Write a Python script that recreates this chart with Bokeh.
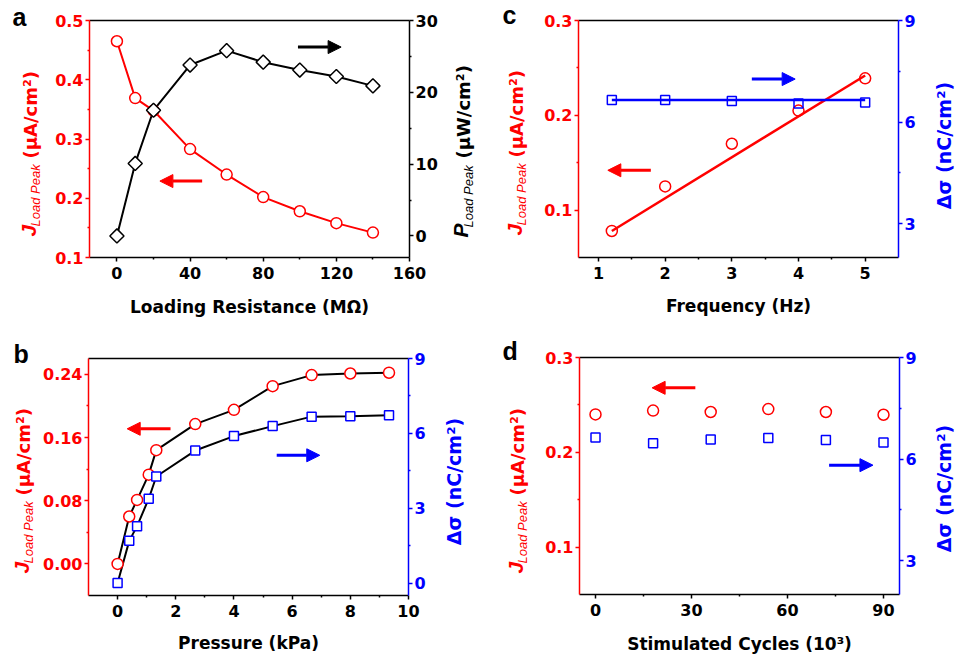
import math
from bokeh.plotting import figure
from bokeh.models import (Range1d, LinearAxis, FixedTicker, NumeralTickFormatter,
                          Label, Arrow, NormalHead)
from bokeh.layouts import gridplot
from bokeh.embed import file_html
from bokeh.resources import INLINE

# ---------------- data ----------------
# Panel a
res_mohm = [0, 10, 20, 40, 60, 80, 100, 120, 140]
j_load_a = [0.465, 0.369, 0.348, 0.283, 0.240, 0.202, 0.178, 0.158, 0.142]
p_load_a = [0.0, 10.1, 17.5, 23.8, 25.8, 24.2, 23.1, 22.2, 20.9]

# Panel b
pressure_kpa = [0, 0.4, 0.67, 1.07, 1.33, 2.67, 4.0, 5.33, 6.67, 8.0, 9.33]
j_load_b = [0.0, 0.060, 0.081, 0.113, 0.144, 0.177, 0.195, 0.225, 0.239, 0.241, 0.242]
sigma_b = [0.0, 1.69, 2.28, 3.38, 4.27, 5.31, 5.89, 6.29, 6.67, 6.69, 6.73]

# Panel c
freq_hz = [1.2, 2, 3, 4, 5]
j_load_c = [0.078, 0.125, 0.170, 0.205, 0.239]
sigma_c = [6.65, 6.65, 6.62, 6.55, 6.58]
fit_freq_c = [1.2, 5]
fit_j_c = [0.078, 0.242]
fit_sigma_c = [6.65, 6.65]

# Panel d
cycles_k = [0, 18, 36, 54, 72, 90]
j_load_d = [0.240, 0.244, 0.2425, 0.2456, 0.2425, 0.2396]
sigma_d = [6.64, 6.47, 6.58, 6.62, 6.56, 6.49]

# axis ranges of each plot box
x_box_a, y_box_a, y2_box_a = (-15, 160), (0.1, 0.5), (-3, 30)
x_box_b, y_box_b, y2_box_b = (-1, 10), (-0.04, 0.26), (-0.5, 9)
x_box_c, y_box_c, y2_box_c = (0.7, 5.5), (0.05, 0.3), (2, 9)
x_box_d, y_box_d, y2_box_d = (-5, 95), (0.05, 0.3), (2, 9)

# tick values
x_ticks_a, x_minor_a = [0, 40, 80, 120, 160], [20, 60, 100, 140]
x_ticks_b, x_minor_b = [0, 2, 4, 6, 8, 10], [1, 3, 5, 7, 9]
x_ticks_c, x_minor_c = [1, 2, 3, 4, 5], [1.5, 2.5, 3.5, 4.5]
x_ticks_d, x_minor_d = [0, 30, 60, 90], [15, 45, 75]
yl_ticks_a, yl_minor_a = [0.1, 0.2, 0.3, 0.4, 0.5], [0.15, 0.25, 0.35, 0.45]
yr_ticks_a, yr_minor_a = [0, 10, 20, 30], [5, 15, 25]
yl_ticks_b, yl_minor_b = [0.0, 0.08, 0.16, 0.24], [0.04, 0.12, 0.20]
yr_ticks_b, yr_minor_b = [0, 3, 6, 9], [1.5, 4.5, 7.5]
yl_ticks_cd, yl_minor_cd = [0.1, 0.2, 0.3], [0.15, 0.25]
yr_ticks_cd, yr_minor_cd = [3, 6, 9], [4.5, 7.5]

# titles
x_title_a = "Loading Resistance (MΩ)"
x_title_b = "Pressure (kPa)"
x_title_c = "Frequency (Hz)"
x_title_d = "Stimulated Cycles (10³)"

RED = "#ff0000"
BLUE = "#0000ff"
BLACK = "#000000"
FW, FH = 320, 237
TFONT = "DejaVu Sans"
IFONT = "Liberation Sans"
ROT = math.pi / 2
SHIFT = 0.35   # em offset of rendered alphabetic baseline


class Panel:
    def __init__(self, W, H, L, B, xbox, ybox, y2box):
        self.xbox, self.ybox, self.y2box = xbox, ybox, y2box
        kx = (xbox[1] - xbox[0]) / FW
        ky = (ybox[1] - ybox[0]) / FH
        ky2 = (y2box[1] - y2box[0]) / FH
        xr = Range1d(xbox[0] - L * kx, xbox[0] + (W - L) * kx)
        yr = Range1d(ybox[0] - B * ky, ybox[0] + (H - B) * ky)
        yr2 = Range1d(y2box[0] - B * ky2, y2box[0] + (H - B) * ky2)
        p = figure(width=W, height=H, x_range=xr, y_range=yr,
                   x_axis_location=None, y_axis_location=None,
                   output_backend="svg", toolbar_location=None, tools="",
                   min_border=0, outline_line_color=None)
        p.extra_y_ranges = {"right": yr2}
        p.grid.visible = False
        self.p = p
        # top frame line
        top = LinearAxis(fixed_location=ybox[1], bounds=xbox,
                         ticker=FixedTicker(ticks=[], minor_ticks=[]))
        top.axis_line_color = BLACK
        top.axis_line_width = 1.5
        top.major_tick_line_color = None
        top.minor_tick_line_color = None
        top.major_label_text_font_size = "0px"
        p.add_layout(top, "above")

    def axis(self, side, color, ticks, minor, fmt):
        kw = {}
        standoff = 2
        if side == "below":
            kw.update(fixed_location=self.ybox[0], bounds=self.xbox)
            standoff = 5
        elif side == "left":
            kw.update(fixed_location=self.xbox[0], bounds=self.ybox)
        else:
            kw.update(fixed_location=self.xbox[1], bounds=self.y2box,
                      y_range_name="right")
        ax = LinearAxis(ticker=FixedTicker(ticks=ticks, minor_ticks=minor),
                        formatter=NumeralTickFormatter(format=fmt), **kw)
        ax.axis_line_color = color
        ax.axis_line_width = 1.5
        ax.major_tick_line_color = color
        ax.major_tick_line_width = 1.5
        ax.minor_tick_line_color = color
        ax.minor_tick_line_width = 1.5
        ax.major_tick_in = 0
        ax.major_tick_out = 4
        ax.minor_tick_in = 0
        ax.minor_tick_out = 2
        ax.major_label_text_color = color
        ax.major_label_text_font = TFONT
        ax.major_label_text_font_style = "bold"
        ax.major_label_text_font_size = "16px"
        ax.major_label_standoff = standoff
        self.p.add_layout(ax, side)
        return ax

    def text(self, dx, dy, text, font, size, style, color, angle=0.0, align="left"):
        # dx, dy: wanted baseline position in px relative to the box's lower left
        if angle:
            dx -= SHIFT * size
        else:
            dy += SHIFT * size
        xb, yb = self.xbox, self.ybox
        self.p.add_layout(Label(
            x=xb[0] + dx * (xb[1] - xb[0]) / FW,
            y=yb[0] + dy * (yb[1] - yb[0]) / FH,
            text=text, text_font=font, text_font_size=f"{size}px",
            text_font_style=style, text_color=color, angle=angle,
            text_align=align, text_baseline="alphabetic"))

    def composite_title(self, base, start, letter, units, color):
        self.text(base, start, letter, IFONT, 21, "bold italic", color, ROT)
        self.text(base + 5, start + 10, "Load Peak", IFONT, 13, "italic", color, ROT)
        self.text(base + 1, start + 78, units, TFONT, 18, "bold", color, ROT)

    def sigma_title(self, base, center):
        self.text(FW + base, center, "Δσ (nC/cm²)", TFONT, 19, "bold", BLUE, ROT,
                  align="center")

    def arrow(self, xs, ys, color, rng="default"):
        self.p.add_layout(Arrow(
            end=NormalHead(size=13, fill_color=color, line_color=color),
            x_start=xs[0], x_end=xs[1], y_start=ys, y_end=ys,
            line_color=color, line_width=3, y_range_name=rng))


# ---------------- panel a ----------------
A = Panel(488, 330, 89, 73, x_box_a, y_box_a, y2_box_a)
A.axis("below", BLACK, x_ticks_a, x_minor_a, "0")
A.axis("left", RED, yl_ticks_a, yl_minor_a, "0.0")
A.axis("right", BLACK, yr_ticks_a, yr_minor_a, "0")
pa = A.p
pa.line(res_mohm, j_load_a, line_color=RED, line_width=2)
pa.line(res_mohm, p_load_a, line_color=BLACK, line_width=2, y_range_name="right")
pa.scatter(res_mohm, j_load_a, marker="circle", size=11, line_color=RED,
           fill_color="white", line_width=1.5)
pa.scatter(res_mohm, p_load_a, marker="square", angle=math.pi / 4, size=10,
           line_color=BLACK, fill_color="white", line_width=1.5, y_range_name="right")
A.arrow((99, 122.6), 26.3, BLACK, "right")
A.arrow((46.6, 23.5), 0.229, RED)
A.composite_title(-54, 21, "J", "(μA/cm²)", RED)
A.text(FW + 58, 20, "P", IFONT, 21, "bold italic", BLACK, ROT)
A.text(FW + 64, 30, "Load Peak", IFONT, 13, "italic", BLACK, ROT)
A.text(FW + 60, 99, "(μW/cm²)", TFONT, 18, "bold", BLACK, ROT)
A.text(FW / 2, -55, x_title_a, TFONT, 17, "bold", BLACK, align="center")
A.text(-77, FH - 5, "a", IFONT, 25, "bold", BLACK)

# ---------------- panel c ----------------
C = Panel(468, 330, 90, 73, x_box_c, y_box_c, y2_box_c)
C.axis("below", BLACK, x_ticks_c, x_minor_c, "0")
C.axis("left", RED, yl_ticks_cd, yl_minor_cd, "0.0")
C.axis("right", BLUE, yr_ticks_cd, yr_minor_cd, "0")
pc = C.p
pc.line(fit_freq_c, fit_j_c, line_color=RED, line_width=2.5)
pc.line(fit_freq_c, fit_sigma_c, line_color=BLUE, line_width=2.5, y_range_name="right")
pc.scatter(freq_hz, j_load_c, marker="circle", size=11, line_color=RED,
           fill_color=None, line_width=1.5)
pc.scatter(freq_hz, sigma_c, marker="square", size=9, line_color=BLUE,
           fill_color=None, line_width=1.5, y_range_name="right")
C.arrow((3.30, 3.95), 7.27, BLUE, "right")
C.arrow((1.785, 1.14), 0.142, RED)
C.composite_title(-57, 22, "J", "(μA/cm²)", RED)
C.sigma_title(52, 112)
C.text(FW / 2, -54, x_title_c, TFONT, 17, "bold", BLACK, align="center")
C.text(-76, FH - 3, "c", IFONT, 25, "bold", BLACK)

# ---------------- panel b ----------------
Bp = Panel(488, 328, 88, 63, x_box_b, y_box_b, y2_box_b)
Bp.axis("below", BLACK, x_ticks_b, x_minor_b, "0")
Bp.axis("left", RED, yl_ticks_b, yl_minor_b, "0.00")
Bp.axis("right", BLUE, yr_ticks_b, yr_minor_b, "0")
pb = Bp.p
pb.line(pressure_kpa, j_load_b, line_color=BLACK, line_width=2)
pb.line(pressure_kpa, sigma_b, line_color=BLACK, line_width=2, y_range_name="right")
pb.scatter(pressure_kpa, j_load_b, marker="circle", size=11, line_color=RED,
           fill_color="white", line_width=1.5)
pb.scatter(pressure_kpa, sigma_b, marker="square", size=9, line_color=BLUE,
           fill_color="white", line_width=1.5, y_range_name="right")
Bp.arrow((1.82, 0.33), 0.171, RED)
Bp.arrow((5.47, 6.95), 5.12, BLUE, "right")
Bp.composite_title(-60, 22, "J", "(μA/cm²)", RED)
Bp.sigma_title(52, 114)
Bp.text(FW / 2, -53, x_title_b, TFONT, 17, "bold", BLACK, align="center")
Bp.text(-75, FH - 4, "b", IFONT, 25, "bold", BLACK)

# ---------------- panel d ----------------
D = Panel(468, 328, 91, 64, x_box_d, y_box_d, y2_box_d)
D.axis("below", BLACK, x_ticks_d, x_minor_d, "0")
D.axis("left", RED, yl_ticks_cd, yl_minor_cd, "0.0")
D.axis("right", BLUE, yr_ticks_cd, yr_minor_cd, "0")
pd_ = D.p
pd_.scatter(cycles_k, j_load_d, marker="circle", size=11, line_color=RED,
            fill_color=None, line_width=1.5)
pd_.scatter(cycles_k, sigma_d, marker="square", size=9, line_color=BLUE,
            fill_color=None, line_width=1.5, y_range_name="right")
D.arrow((31.2, 17.7), 0.268, RED)
D.arrow((73.0, 86.7), 5.82, BLUE, "right")
D.composite_title(-57, 21, "J", "(μA/cm²)", RED)
D.sigma_title(51, 106)
D.text(FW / 2, -55, x_title_d, TFONT, 17, "bold", BLACK, align="center")
D.text(-77, FH - 2, "d", IFONT, 25, "bold", BLACK)

grid = gridplot([[pa, pc], [pb, pd_]], toolbar_location=None)

with open("out.html", "w") as f:
    f.write(file_html(grid, INLINE))
